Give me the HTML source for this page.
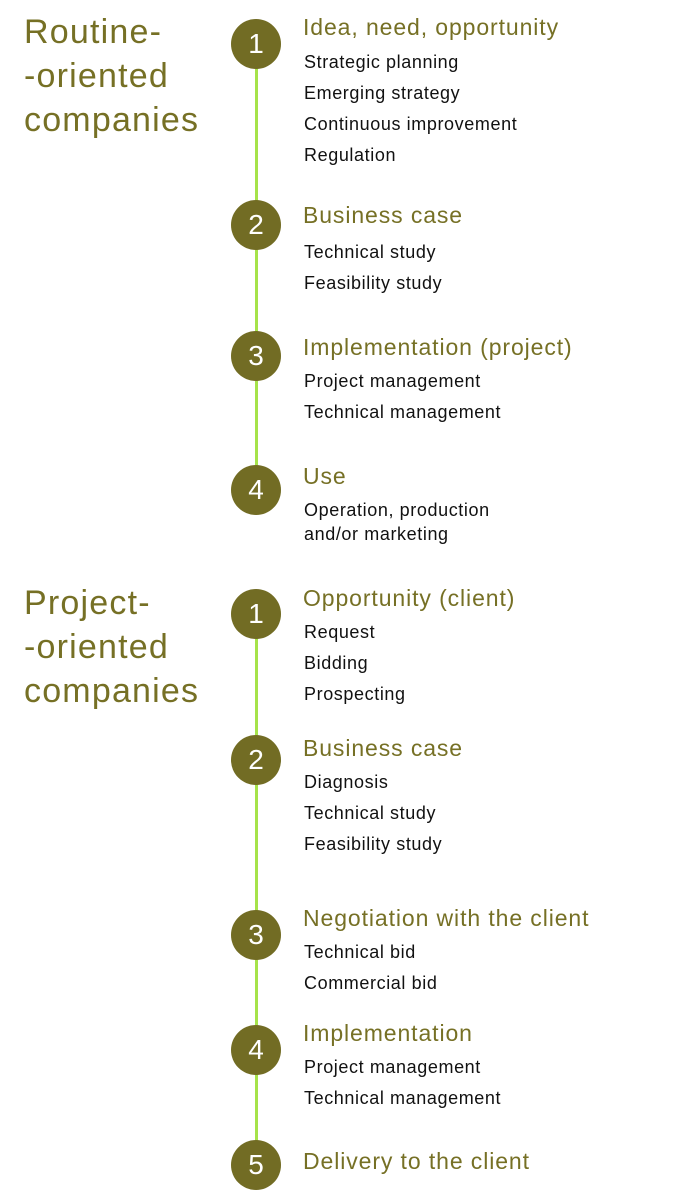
<!DOCTYPE html>
<html><head><style>
body{margin:0;width:682px;height:1200px;background:#fff;position:relative;font-family:"Liberation Sans",sans-serif;overflow:hidden}
.t{position:absolute;left:24px;font-size:34px;line-height:44px;color:#767025;letter-spacing:1.2px}
.c{position:absolute;left:231px;width:50px;height:50px;border-radius:50%;background:#726c24;color:#fff;font-size:28px;line-height:50px;text-align:center}
.l{position:absolute;left:255px;width:3px;background:#a6e34a}
.h{position:absolute;left:303px;font-size:23px;line-height:26px;color:#767025;white-space:nowrap;letter-spacing:0.9px}
.i{position:absolute;left:304px;font-size:18px;line-height:22px;color:#111;white-space:nowrap;letter-spacing:0.6px}
</style></head><body>
<div class="t" style="top:10px">Routine-<br>-oriented<br>companies</div>
<div class="t" style="top:581px">Project-<br>-oriented<br>companies</div>
<div class="l" style="top:44px;height:446px"></div>
<div class="l" style="top:614px;height:551px"></div>

<div class="c" style="top:19px">1</div>
<div class="h" style="top:14px">Idea, need, opportunity</div>
<div class="i" style="top:51px">Strategic planning</div>
<div class="i" style="top:82px">Emerging strategy</div>
<div class="i" style="top:113px">Continuous improvement</div>
<div class="i" style="top:144px">Regulation</div>

<div class="c" style="top:200px">2</div>
<div class="h" style="top:202px">Business case</div>
<div class="i" style="top:241px">Technical study</div>
<div class="i" style="top:272px">Feasibility study</div>

<div class="c" style="top:331px">3</div>
<div class="h" style="top:334px">Implementation (project)</div>
<div class="i" style="top:370px">Project management</div>
<div class="i" style="top:401px">Technical management</div>

<div class="c" style="top:465px">4</div>
<div class="h" style="top:463px">Use</div>
<div class="i" style="top:499px">Operation, production</div>
<div class="i" style="top:523px">and/or marketing</div>

<div class="c" style="top:589px">1</div>
<div class="h" style="top:585px">Opportunity (client)</div>
<div class="i" style="top:621px">Request</div>
<div class="i" style="top:652px">Bidding</div>
<div class="i" style="top:683px">Prospecting</div>

<div class="c" style="top:735px">2</div>
<div class="h" style="top:735px">Business case</div>
<div class="i" style="top:771px">Diagnosis</div>
<div class="i" style="top:802px">Technical study</div>
<div class="i" style="top:833px">Feasibility study</div>

<div class="c" style="top:910px">3</div>
<div class="h" style="top:905px">Negotiation with the client</div>
<div class="i" style="top:941px">Technical bid</div>
<div class="i" style="top:972px">Commercial bid</div>

<div class="c" style="top:1025px">4</div>
<div class="h" style="top:1020px">Implementation</div>
<div class="i" style="top:1056px">Project management</div>
<div class="i" style="top:1087px">Technical management</div>

<div class="c" style="top:1140px">5</div>
<div class="h" style="top:1148px">Delivery to the client</div>
</body></html>
